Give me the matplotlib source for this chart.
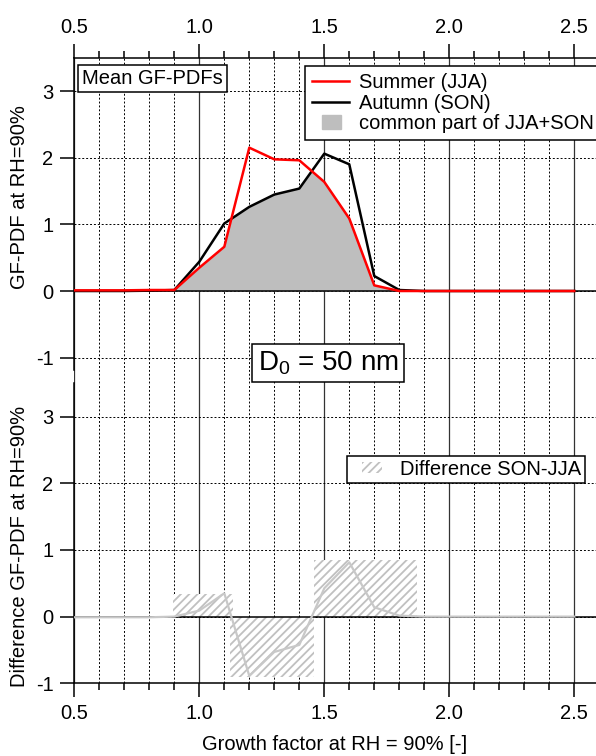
import numpy as np
import matplotlib.pyplot as plt
import matplotlib.patches as mpatches
from matplotlib.lines import Line2D
from matplotlib.legend_handler import HandlerPatch
from matplotlib.ticker import MultipleLocator, FormatStrFormatter

plt.rcParams['font.family'] = ['Liberation Sans', 'DejaVu Sans']
plt.rcParams['mathtext.default'] = 'regular'
plt.rcParams['axes.unicode_minus'] = False
plt.rcParams['hatch.linewidth'] = 1.3

# growth factor bins and mean GF-PDFs
gf = [0.5, 0.6, 0.7, 0.8, 0.9, 1.0, 1.1, 1.2, 1.3, 1.4, 1.5,
      1.6, 1.7, 1.8, 1.9, 2.0, 2.1, 2.2, 2.3, 2.4, 2.5]
pdf_jja = [0.01, 0.01, 0.01, 0.015, 0.015, 0.35, 0.665, 2.155, 1.98, 1.965, 1.64,
           1.09, 0.085, 0.0, 0.0, 0.0, 0.0, 0.0, 0.0, 0.0, 0.0]
pdf_son = [0.0, 0.0, 0.0, 0.005, 0.015, 0.44, 1.015, 1.265, 1.45, 1.54, 2.065,
           1.905, 0.225, 0.015, 0.0, 0.0, 0.0, 0.0, 0.0, 0.0, 0.0]

# hatched blocks of the difference plot
diff_left = [0.895, 1.123, 1.457]
diff_right = [1.136, 1.46, 1.87]
diff_peak = [0.34, -0.9, 0.85]

yticks = [-1, 0, 1, 2, 3]
FS = 14.5
DASH = (0, (2, 2))


def swatch(legend, orig_handle, xdescent, ydescent, width, height, fontsize):
    # smaller patch in the middle of the handle box, like the Igor legend
    return mpatches.Rectangle((-xdescent + 0.27 * width, -ydescent), 0.52 * width, height)


def style_axis(ax, ylim, spine_low):
    ax.set_xlim(0.5, 2.587)
    ax.set_ylim(*ylim)
    ax.xaxis.set_major_locator(MultipleLocator(0.5))
    ax.xaxis.set_minor_locator(MultipleLocator(0.1))
    ax.xaxis.set_major_formatter(FormatStrFormatter('%.1f'))
    ax.set_yticks(yticks)
    ax.tick_params(which='major', direction='out', length=10, width=1.1, labelsize=FS)
    ax.tick_params(which='minor', direction='out', length=5.3, width=1.1)
    ax.tick_params(axis='y', pad=5)
    ax.spines['right'].set_visible(False)
    ax.spines['left'].set_linewidth(1.1)
    ax.spines['left'].set_bounds(spine_low, 3.5)
    ax.set_axisbelow(True)
    ax.grid(which='major', axis='x', color='#333333', lw=0.9, ls='-')
    ax.grid(which='minor', axis='x', color='black', lw=0.7, ls=DASH)
    ax.grid(which='major', axis='y', color='black', lw=0.7, ls=DASH)
    ax.axhline(0, color='black', lw=1.1, zorder=2)


fig = plt.figure(figsize=(5.96, 7.56), dpi=100)

# ---- top panel: mean GF-PDFs
ax1 = fig.add_axes([0.1247, 0.4934, 0.8753, 0.4296])
style_axis(ax1, (-1.383, 3.5), -1.19)
ax1.xaxis.tick_top()
ax1.tick_params(axis='x', pad=5)
ax1.spines['bottom'].set_visible(False)
ax1.spines['top'].set_linewidth(1.1)

x_fine = np.linspace(gf[0], gf[-1], 2001)
common = np.minimum(np.interp(x_fine, gf, pdf_jja), np.interp(x_fine, gf, pdf_son))
ax1.fill_between(x_fine, 0, common, color='#bebebe', lw=0, zorder=1)
ax1.plot(gf, pdf_son, color='black', lw=1.8, zorder=3)
ax1.plot(gf, pdf_jja, color='#ff0000', lw=1.8, zorder=3)

ax1.text(0.0144, 0.938, 'Mean GF-PDFs', transform=ax1.transAxes, fontsize=FS,
         ha='left', va='center', zorder=5,
         bbox=dict(boxstyle='square,pad=0.2', fc='white', ec='black', lw=1.1))

h_top = [Line2D([], [], color='#ff0000', lw=1.8),
         Line2D([], [], color='black', lw=1.8),
         mpatches.Patch(color='#bebebe')]
leg1 = ax1.legend(h_top, ['Summer (JJA)', 'Autumn (SON)', 'common part of JJA+SON'],
                  loc='upper left', bbox_to_anchor=(0.442, 0.976), borderaxespad=0,
                  fontsize=FS, fancybox=False, framealpha=1, edgecolor='black',
                  handlelength=1.85, handletextpad=0.5, borderpad=0.35, labelspacing=0.08,
                  handler_map={mpatches.Patch: HandlerPatch(patch_func=swatch)})
leg1.get_frame().set_linewidth(1.1)

# ---- bottom panel: difference SON-JJA
ax2 = fig.add_axes([0.1247, 0.0962, 0.8753, 0.3968])
style_axis(ax2, (-1, 3.5), -1)
ax2.tick_params(axis='x', pad=5)
ax2.spines['top'].set_visible(False)
ax2.spines['bottom'].set_linewidth(1.1)

widths = [r - l for l, r in zip(diff_left, diff_right)]
ax2.bar(diff_left, diff_peak, width=widths, align='edge', facecolor='white',
        edgecolor='#c0c0c0', hatch='////', lw=0, zorder=1)
diff = [s - j for s, j in zip(pdf_son, pdf_jja)]
ax2.plot(gf, diff, color='#c8c8c8', lw=1.6, zorder=3)

h_bot = [mpatches.Patch(facecolor='white', edgecolor='#c0c0c0', hatch='////', lw=0)]
leg2 = ax2.legend(h_bot, ['Difference SON-JJA'], loc='upper left',
                  bbox_to_anchor=(0.523, 0.759), borderaxespad=0, fontsize=FS,
                  fancybox=False, framealpha=1, edgecolor='black', handlelength=1.9,
                  handleheight=0.45, handletextpad=0.5, borderpad=0.22,
                  handler_map={mpatches.Patch: HandlerPatch(patch_func=swatch)})
leg2.get_frame().set_linewidth(1.1)

# ---- labels and the size annotation
fig.text(20 / 596, 1 - 197 / 756, 'GF-PDF at RH=90%', rotation=90,
         ha='center', va='center', fontsize=FS)
fig.text(20 / 596, 1 - 546 / 756, 'Difference GF-PDF at RH=90%', rotation=90,
         ha='center', va='center', fontsize=FS)
fig.text(335 / 596, 1 - 745 / 756, 'Growth factor at RH = 90% [-]',
         ha='center', va='center', fontsize=FS)
fig.text(328 / 596, 1 - 363 / 756, 'D$_0$ = 50 nm', ha='center', va='center', fontsize=20,
         bbox=dict(boxstyle='square,pad=0.2', fc='white', ec='black', lw=1.1))

fig.savefig('out.png', dpi=100)
